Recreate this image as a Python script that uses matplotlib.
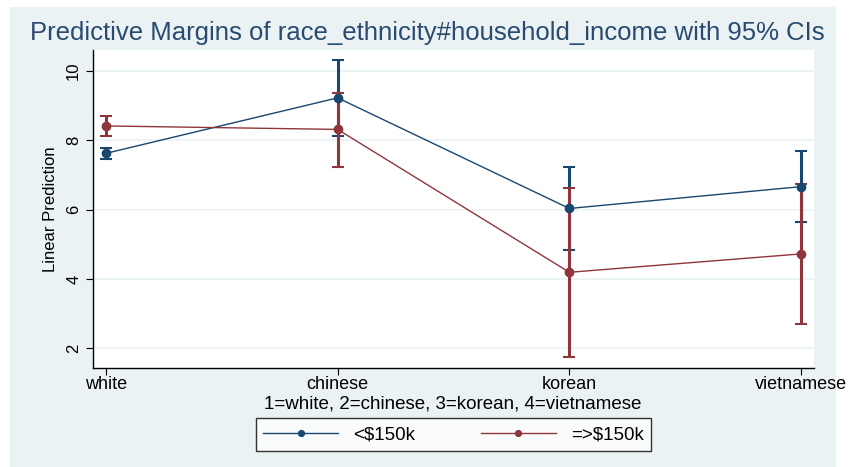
import numpy as np
import matplotlib.pyplot as plt
from matplotlib.patches import Rectangle

plt.rcParams['font.family'] = ['Liberation Sans', 'DejaVu Sans']

# values
groups = ['white', 'chinese', 'korean', 'vietnamese']
low_inc = [7.62, 9.22, 6.03, 6.66]
low_lo = [7.47, 8.12, 4.83, 5.63]
low_hi = [7.77, 10.31, 7.23, 7.69]
high_inc = [8.41, 8.31, 4.19, 4.72]
high_lo = [8.12, 7.24, 1.76, 2.70]
high_hi = [8.69, 9.37, 6.61, 6.74]

navy = '#1a476f'
maroon = '#90353b'
bg = '#eaf2f3'

x = np.arange(1, len(groups) + 1)

fig = plt.figure(figsize=(8.55, 4.67), dpi=100, facecolor='white')
fig.patches.append(Rectangle((10 / 855, 0), 826 / 855, 1 - 7 / 467,
                             transform=fig.transFigure, facecolor=bg,
                             edgecolor='none', zorder=-10))
ax = fig.add_axes([93 / 855, 1 - 368 / 467, 721 / 855, 318 / 467])
ax.set_facecolor('white')

for y, lo, hi, c, lab in [(low_inc, low_lo, low_hi, navy, '<$150k'),
                          (high_inc, high_lo, high_hi, maroon, '=>$150k')]:
    y = np.array(y)
    err = [y - np.array(lo), np.array(hi) - y]
    ax.errorbar(x, y, yerr=err, fmt='none', ecolor=c, elinewidth=2.2,
                capsize=4, capthick=1.5, zorder=3)
    ax.plot(x, y, color=c, lw=1.0, marker='o', ms=6, label=lab, zorder=4)

ax.set_xlim(0.944, 4.056)
ax.set_ylim(1.43, 10.6)
ax.set_yticks([2, 4, 6, 8, 10])
ax.set_xticks(x)
ax.set_xticklabels(groups, fontsize=13)
ax.tick_params(axis='y', labelrotation=90, labelsize=12, length=5)
ax.tick_params(axis='x', length=5, pad=1)
for lbl in ax.get_yticklabels():
    lbl.set_va('center')
ax.grid(axis='y', color=bg, lw=1.2)
ax.set_axisbelow(True)
for s in ['top', 'right']:
    ax.spines[s].set_visible(False)
for s in ['left', 'bottom']:
    ax.spines[s].set_color('black')
    ax.spines[s].set_linewidth(1.0)

ax.set_ylabel('Linear Prediction', fontsize=12, labelpad=6)
fig.text(453 / 855, 1 - 404 / 467, '1=white, 2=chinese, 3=korean, 4=vietnamese',
         ha='center', va='center', fontsize=13.5)
fig.text(0.5, 1 - 33 / 467, 'Predictive Margins of race_ethnicity#household_income with 95% CIs',
         ha='center', va='center', fontsize=18.5, color='#2a4a70')

leg = fig.legend(loc='center', bbox_to_anchor=(453.5 / 855, 1 - 434.5 / 467),
                 ncol=2, frameon=True, fancybox=False, fontsize=13.5,
                 markerscale=0.7, handlelength=4, columnspacing=3.5,
                 edgecolor='black', borderpad=0.4)
leg.get_frame().set_linewidth(1.0)

fig.savefig('out.png', dpi=100, facecolor='white')
